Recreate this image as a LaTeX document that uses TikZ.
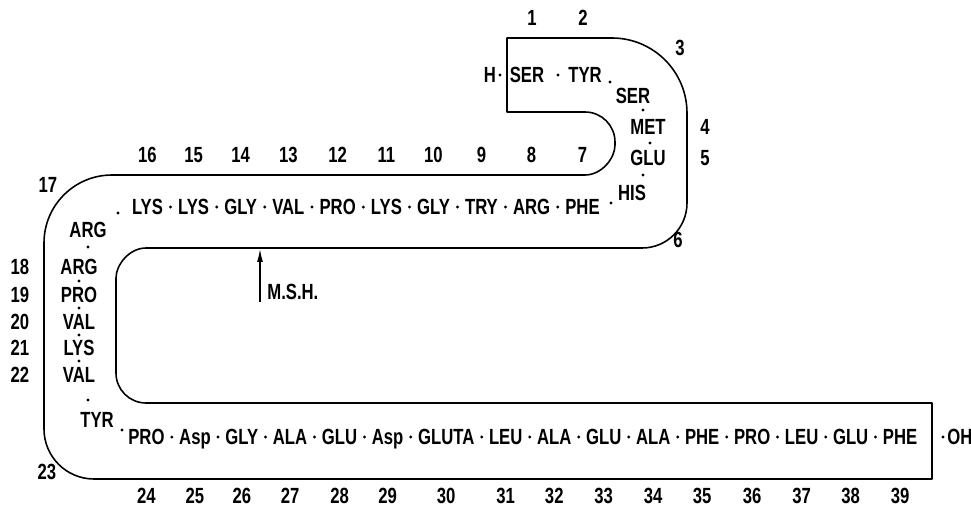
\documentclass[tikz,border=0pt]{standalone}
\usepackage{fontspec}
\setmainfont{Liberation Sans}[FakeStretch=0.76]
\usepackage{tikz}
\usetikzlibrary{arrows.meta,calc,positioning}

\begin{document}
\begin{tikzpicture}[
  x=0.02cm, y=-0.02cm,
  every node/.style={font=\bfseries\fontsize{12.5}{14}\selectfont, inner sep=0pt,
    text height=9pt, text depth=0pt},
  bond/.style={circle, fill, minimum size=0.065cm, inner sep=0pt, text height=, text depth=},
  band/.style={line width=0.9pt, line join=round}
]
\useasboundingbox (0,0) rectangle (971,507);

% chain outline
\draw[band] (507,38) -- (612,38) .. controls (653.4,38) and (687,71.6) .. (687,113)
  -- (687,203) .. controls (687,227.9) and (666.9,248) .. (642,248)
  -- (146,248) .. controls (129.4,248) and (116,264.6) .. (116,278)
  -- (116,373) .. controls (116,389.6) and (129.4,403) .. (146,403)
  -- (932,403) -- (932,479) -- (94,479) .. controls (66.4,479) and (44,456.6) .. (44,429)
  -- (44,243) .. controls (44,205.4) and (74.4,175) .. (112,175)
  -- (585,175) .. controls (601.6,175) and (615,158.4) .. (615,145)
  -- (615,142) .. controls (615,125.4) and (601.6,112) .. (585,112)
  -- (507,112) -- cycle;

\coordinate (toprow) at (0,155);
\coordinate (botrow) at (0,496);

% ends and the hairpin
\node (r0) at (490,75) {H};
\foreach \n/\x/\y/\t/\nx/\ny in {1/527/75/SER/532/18, 2/585/75/TYR/583/18,
    3/633/96/SER/680/48, 4/648/127/MET/705/127, 5/648/158/GLU/705/158,
    6/632/193/HIS/678/240, 17/88/230/ARG/48/185, 23/97/420/TYR/47/472}
  {\node (r\n) at (\x,\y) {\t};
   \node (n\n) at (\nx,\ny) {\n};}

% upper row, right to left
\node[anchor=east] (r7) at (600,207) {PHE};
\foreach \n/\t [remember=\n as \p (initially 7)] in {8/ARG, 9/TRY, 10/GLY,
    11/LYS, 12/PRO, 13/VAL, 14/GLY, 15/LYS, 16/LYS}
  \node[left=0.29cm of r\p] (r\n) {\t};
\foreach \n in {7,...,16}
  \node (n\n) at (r\n |- toprow) {\n};

% left column
\foreach \n/\y/\t in {18/267/ARG, 19/295/PRO, 20/322/VAL, 21/348/LYS, 22/375/VAL}
  {\node (r\n) at (79,\y) {\t};
   \node (n\n) at (20,\y) {\n};}

% lower row, left to right
\node[anchor=west] (r24) at (128,437) {PRO};
\foreach \n/\t [remember=\n as \p (initially 24)] in {25/Asp, 26/GLY, 27/ALA,
    28/GLU, 29/Asp, 30/GLUTA, 31/LEU, 32/ALA, 33/GLU, 34/ALA, 35/PHE, 36/PRO,
    37/LEU, 38/GLU, 39/PHE}
  \node[right=0.28cm of r\p] (r\n) {\t};
\foreach \n in {24,...,39}
  \node (n\n) at (r\n |- botrow) {\n};
\node (oh) at (960,437) {OH};

% bonds
\foreach \a/\b in {8/7, 9/8, 10/9, 11/10, 12/11, 13/12, 14/13, 15/14, 16/15,
    24/25, 25/26, 26/27, 27/28, 28/29, 29/30, 30/31, 31/32, 32/33, 33/34,
    34/35, 35/36, 36/37, 37/38, 38/39}
  \node[bond] (b\a) at ($(r\a.east)!0.5!(r\b.west)$) {};
\foreach \a/\x/\y in {0/500/75, 1/558/75, 2/610/82, 3/643/110, 4/650/143,
    5/643/175, 6/611/203, 16/118/213, 17/88/247, 18/79/281, 19/79/308,
    20/79/335, 21/79/361, 22/88/400, 23/122/430}
  \node[bond] (b\a) at (\x,\y) {};
\node[bond] (b39) at (943,437) {};

% M.S.H.
\coordinate (mshtail) at (260,302);
\coordinate (mshtip) at (260,249);
\draw[-{Latex[length=2.6mm,width=1.2mm]}, line width=0.7pt] (mshtail) -- (mshtip);
\node[anchor=west] (msh) at (267,292) {M.S.H.};
\end{tikzpicture}
\end{document}
